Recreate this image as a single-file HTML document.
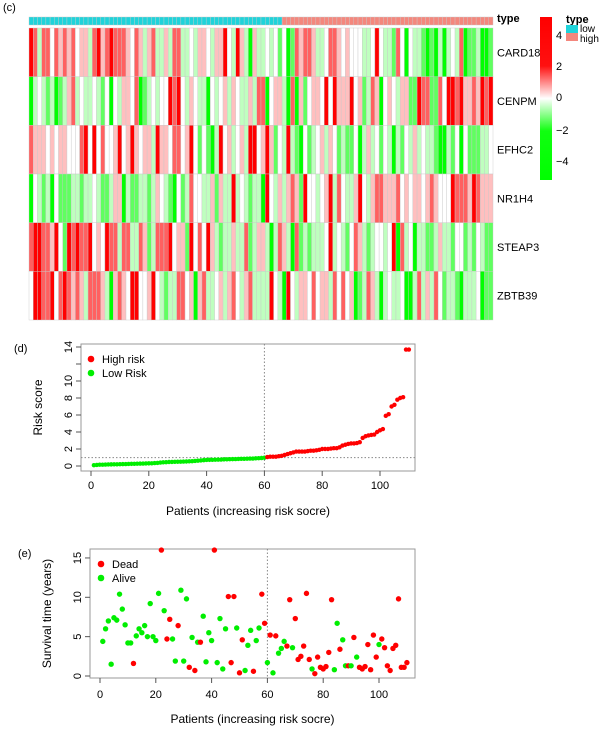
<!DOCTYPE html>
<html><head><meta charset="utf-8"><style>
body{margin:0;background:#fff;}
svg{display:block;font-family:"Liberation Sans",Arial,sans-serif;}
</style></head><body>
<svg id="fig" width="603" height="730" viewBox="0 0 603 730">
<text x="3" y="11" font-size="11">(c)</text>
<text x="14" y="352" font-size="11">(d)</text>
<text x="18" y="557" font-size="11">(e)</text>
<g id="heat"></g>
<g id="legend">
<defs><linearGradient id="cg" x1="0" y1="0" x2="0" y2="1">
<stop offset="0" stop-color="#ff0000"/><stop offset="0.3" stop-color="#ff1010"/><stop offset="0.5" stop-color="#ffffff"/><stop offset="0.7" stop-color="#10ff10"/><stop offset="1" stop-color="#00ff00"/></linearGradient></defs>
<rect x="540" y="17" width="12" height="163" fill="url(#cg)"/>
<text x="556" y="39" font-size="11">4</text>
<text x="556" y="70" font-size="11">2</text>
<text x="556" y="101" font-size="11">0</text>
<text x="556" y="134" font-size="11">−2</text>
<text x="556" y="165" font-size="11">−4</text>
<text x="566" y="23" font-size="11" font-weight="bold">type</text>
<rect x="566" y="25" width="12" height="8" fill="#1fd3da"/>
<rect x="566" y="33" width="12" height="8" fill="#f4877d"/>
<text x="580" y="32" font-size="10">low</text>
<text x="580" y="42" font-size="10">high</text>
<text x="497" y="22" font-size="11" font-weight="bold">type</text>
</g>
<g id="riskplot"></g>
<g id="survplot"></g>
</svg>
<script>
const genes=["CARD18","CENPM","EFHC2","NR1H4","STEAP3","ZBTB39"];
const lowCount=60;
const card18=[4,2.5,-1,2.5,2.5,0,2.5,1,2.5,1,2.5,0,1,1,-1,2.5,4,1,2.5,4,2.5,2.5,2.5,1,0,2.5,1,-1,1,2.5,-1,-1,1,-1,2.5,2.5,-1,-1,0,-1,1,1,0,-1,1,1,4,0,-1,4,1,-1,-4,1,-1,-1,0,-1,0,-2.5,0,-4,-2.5,2.5,1,2.5,2.5,1,-1,-1,0,2.5,2.5,1,0,1,0,0,0,-1,-1,0,4,0,-1,-1,-2.5,2.5,0,-4,0,-1,-1,-2.5,-4,-2.5,-4,-1,-4,-1,0,-1,2.5,-4,-2.5,-2.5,-1,-4,-4,-2.5];
const cenpm=[-4,-1,0,-1,-2.5,-1,-4,-2.5,-1,1,2.5,-1,0,-1,-1,0,-1,-2.5,0,-4,0,-1,1,1,0,2.5,-4,-2.5,-1,0,-1,0,0,4,2.5,4,0,-1,1,0,-1,-1,-4,0,-1,0,1,-1,1,0,-1,-1,1,-1,2.5,2.5,-4,0,1,1,-1,-4,2.5,-4,1,-2.5,0,1,1,0,4,0,4,1,1,1,4,0,1,-2.5,-1,2.5,1,-4,0,1,0,-1,1,1,-2.5,-2.5,4,2.5,2.5,-2.5,-2.5,2.5,0,4,4,2.5,4,1,1,2.5,1,4,2.5,4];
const efhc2=[2.5,1,1,1,0,1,0,1,1,0,0,0,2.5,4,0,4,0,2.5,0,0,1,4,0,1,4,1,0,1,1,-1,4,1,1,0,2.5,2.5,0,1,4,0,-2.5,0,-2.5,-4,-1,4,0,1,-1,0,1,-1,4,4,0,1,4,1,-2.5,0,-1,4,-1,-2.5,-4,0,-2.5,-1,0,1,-1,1,0,-2.5,-1,-2.5,-2.5,0,-4,-1,1,-1,0,-2.5,0,-1,-4,-1,-2.5,0,-1,1,-1,0,-1,-1,-2.5,-4,-4,-1,-2.5,0,-4,0,-2.5,-2.5,-2.5,-1,-1,0];
const nr1h4=[-4,0,-1,-2.5,-1,-4,0,-2.5,-2.5,-2.5,-1,-1,-2.5,-1,-1,0,-1,-2.5,-2.5,-1,1,1,-4,-1,-2.5,-2.5,-1,-1,-2.5,-1,1,0,-1,-2.5,-4,0,-2.5,-1,2.5,0,0,-1,-1,1,-2.5,1,-1,-1,4,-1,0,-1,-2.5,-1,-1,-4,4,0,-1,1,-1,1,2.5,1,-2.5,4,0,0,-1,0,1,4,-1,2.5,0,-1,-1,1,4,0,-1,1,2.5,2.5,1,1,1,2.5,0,1,0,1,1,0,1,2.5,1,0,0,0,4,2.5,2.5,2.5,1,4,2.5,1,1,1];
const steap3=[2.5,4,4,2.5,2.5,1,4,0,-2.5,4,2.5,4,2.5,2.5,4,0,1,0,4,2.5,2.5,-1,2.5,2.5,-1,-1,2.5,1,-2.5,-1,2.5,2.5,2.5,4,0,1,1,-2.5,4,0,2.5,0,4,1,-1,-2.5,-1,-1,1,-1,-1,2.5,-2.5,-1,1,1,-1,-4,-1,2.5,1,-1,-4,2.5,-2.5,-1,-2.5,-1,-1,-1,0,4,-1,0,-1,-2.5,0,2.5,1,-1,-2.5,-1,0,0,-1,0,4,-4,2.5,-1,0,-4,-1,-1,-2.5,-2.5,-1,1,-1,-1,-2.5,0,0,-2.5,-1,-2.5,0,-1,-2.5,-2.5];
const zbtb39=[0,4,4,2.5,2.5,4,0,2.5,4,2.5,1,2.5,1,-1,2.5,2.5,2.5,1,-1,-4,1,2.5,1,0,4,4,0,0,1,4,0,-1,-2.5,-1,-1,2.5,2.5,0,1,-4,1,2.5,-1,-1,0,1,-1,1,2.5,0,-1,1,2.5,-1,-1,-1,-1,4,0,-1,-4,4,0,-1,1,1,0,2.5,0,1,1,-1,2.5,0,2.5,0,1,-4,-2.5,-1,2.5,1,-1,-4,-1,0,-1,-1,0,-4,-4,-1,2.5,-1,1,-1,2.5,0,-2.5,-1,-1,-2.5,-4,-1,-1,-1,0,-4,-2.5,-2.5];
const riskScores=[0.10,0.12,0.15,0.16,0.17,0.18,0.19,0.20,0.20,0.21,0.22,0.23,0.24,0.25,0.26,0.27,0.28,0.29,0.30,0.31,0.32,0.34,0.36,0.40,0.43,0.45,0.47,0.48,0.49,0.50,0.51,0.52,0.53,0.55,0.57,0.60,0.63,0.66,0.69,0.71,0.72,0.73,0.74,0.75,0.76,0.78,0.79,0.80,0.81,0.82,0.83,0.84,0.85,0.86,0.87,0.88,0.90,0.92,0.94,0.97,
1.05,1.1,1.1,1.1,1.15,1.2,1.3,1.4,1.5,1.6,1.7,1.7,1.7,1.7,1.75,1.8,1.8,1.85,1.9,2.0,2.0,2.0,2.05,2.1,2.1,2.2,2.4,2.5,2.6,2.65,2.65,2.7,2.8,3.3,3.5,3.6,3.65,3.7,4.0,4.2,4.35,5.9,6.1,7.0,7.2,7.8,8.0,8.1,13.7,13.7];
const riskCutoff=0.98;
const survTime=[4.4,6.0,7.0,1.5,7.4,7.1,10.4,8.5,6.5,4.2,4.2,1.6,5.1,6.0,5.5,6.4,5.0,9.2,5.0,4.5,10.5,16,8.3,4.7,7.2,4.7,1.9,6.4,10.9,1.9,9.8,1.1,4.9,0.7,4.3,4.3,7.6,1.8,5.5,4.5,16,1.7,7.3,0.9,6.0,10.1,1.7,10.1,6.1,0.4,4.6,0.7,3.9,5.8,0.6,4.5,6.1,10.4,6.7,1.7,5.2,0.4,5.1,2.9,3.5,4.4,3.8,9.7,3.6,7.3,2.1,2.5,3.8,10.5,2.1,0.9,0.3,2.4,1.1,0.9,1.2,3.0,9.7,0.8,6.7,3.4,4.6,1.3,1.3,1.3,4.9,2.4,1.1,0.9,1.2,4.0,0.8,5.2,2.4,4.0,4.7,3.6,1.3,0.7,3.5,3.9,9.8,1.1,1.1,1.7];
const survDead=[0,0,0,0,0,0,0,0,0,0,0,1,0,0,0,0,0,0,0,0,0,1,0,1,1,0,0,1,0,0,0,1,0,1,0,1,0,0,0,0,1,0,0,0,0,1,1,1,0,1,1,0,0,0,1,0,0,1,1,0,1,0,1,0,0,0,1,1,0,1,1,1,1,1,1,0,1,1,1,1,1,1,1,0,0,1,0,0,1,0,1,0,1,1,1,1,1,1,1,0,1,1,1,1,1,1,1,1,1,1];
const xTicks=[0,20,40,60,80,100];
const riskYTicks=[0,2,4,6,8,10,12,14];
const riskYLabels=["0","2","4","6","8","10","","14"];
const survYTicks=[0,5,10,15];

const NS="http://www.w3.org/2000/svg";
function mk(tag,attrs,parent){const e=document.createElementNS(NS,tag);for(const k in attrs)e.setAttribute(k,attrs[k]);parent.appendChild(e);return e;}
function cellColor(v){const t=Math.min(1,Math.abs(v)/4);const c=Math.round(255*(1-t));return v>=0?`rgb(255,${c},${c})`:`rgb(${c},255,${c})`;}

const heat=document.getElementById('heat');
const rows=[card18,cenpm,efhc2,nr1h4,steap3,zbtb39];
const hx0=29,hx1=493,hy0=28,hy1=320;
const n=card18.length, cw=(hx1-hx0)/n, rh=(hy1-hy0)/rows.length;
for(let i=0;i<n;i++){
  const a=mk('rect',{x:hx0+i*cw,y:17,width:cw,height:8,fill:i<lowCount?'#1fd3da':'#f4877d',stroke:'#c8c8c8','stroke-width':0.4},heat);
  
  
}
rows.forEach((vals,r)=>{
  vals.forEach((v,i)=>{
    const c=mk('rect',{x:hx0+i*cw,y:hy0+r*rh,width:cw,height:rh,fill:cellColor(v),stroke:'#c8c8c8','stroke-width':0.4},heat);
    
    
  });
  const t=mk('text',{x:497,y:hy0+r*rh+rh/2+4,'font-size':11},heat);
  t.textContent=genes[r];
  
  
});

function axes(g,box,xs,ys,yt,ylab,ytitle,xtitle,titleX,tickLblY,xTitleY){
  const b=mk('rect',{x:box.l,y:box.t,width:box.r-box.l,height:box.b-box.t,fill:'none',stroke:'#999','stroke-width':1},g);
  
  
  xTicks.forEach(v=>{
    const x=xs(v);
    mk('line',{x1:x,x2:x,y1:box.b,y2:box.b+5,stroke:'#555'},g);
    const t=mk('text',{x:x,y:tickLblY,'font-size':11,'text-anchor':'middle'},g);
    t.textContent=v;
    
    
  });
  yt.forEach((v,i)=>{
    const y=ys(v);
    mk('line',{x1:box.l,x2:box.l-5,y1:y,y2:y,stroke:'#555'},g);
    const t=mk('text',{x:box.l-9,y:y,'font-size':11,'text-anchor':'middle',transform:`rotate(-90 ${box.l-9} ${y})`},g);
    t.textContent=ylab[i];
    
    
  });
  const yt2=mk('text',{x:titleX,y:(box.t+box.b)/2,'font-size':12,'text-anchor':'middle',transform:`rotate(-90 ${titleX} ${(box.t+box.b)/2})`},g);
  yt2.textContent=ytitle;
  
  
  const xt=mk('text',{x:(box.l+box.r)/2,y:xTitleY,'font-size':12,'text-anchor':'middle'},g);
  xt.textContent=xtitle;
  
  
}
function legend(g,x,y,labels,colors){
  labels.forEach((l,i)=>{
    const c=mk('circle',{cx:x,cy:y+i*14,r:3.3,fill:colors[i]},g);
    
    
    const t=mk('text',{x:x+11,y:y+i*14+4,'font-size':11},g);
    t.textContent=l;
    
    
  });
}

const rp=document.getElementById('riskplot');
const rbox={l:81,r:415,t:344,b:471};
const rxs=v=>91+v*2.89, rys=v=>466-v*8.5;
axes(rp,rbox,rxs,rys,riskYTicks,riskYLabels,'Risk score','Patients (increasing risk socre)',42,489,515);
mk('line',{x1:rxs(lowCount),x2:rxs(lowCount),y1:rbox.t,y2:rbox.b,stroke:'#888','stroke-dasharray':'1.5,2'},rp);
mk('line',{x1:rbox.l,x2:rbox.r,y1:rys(riskCutoff),y2:rys(riskCutoff),stroke:'#888','stroke-dasharray':'1.5,2'},rp);
riskScores.forEach((v,i)=>{
  const c=mk('circle',{cx:rxs(i+1),cy:rys(v),r:2.2,fill:i<lowCount?'#00ee00':'#ff0000'},rp);
  
  
});
legend(rp,91,359,['High risk','Low Risk'],['#ff0000','#00ee00']);

const sp=document.getElementById('survplot');
const sbox={l:90,r:415,t:549,b:678};
const sxs=v=>100+v*2.79, sys=v=>676-v*7.87;
axes(sp,sbox,sxs,sys,survYTicks,survYTicks.map(String),'Survival time (years)','Patients (increasing risk socre)',51,698,723);
mk('line',{x1:sxs(lowCount),x2:sxs(lowCount),y1:sbox.t,y2:sbox.b,stroke:'#888','stroke-dasharray':'1.5,2'},sp);
survTime.forEach((v,i)=>{
  const c=mk('circle',{cx:sxs(i+1),cy:sys(v),r:2.7,fill:survDead[i]?'#ff0000':'#00ee00'},sp);
  
  
});
legend(sp,101,564,['Dead','Alive'],['#ff0000','#00ee00']);
</script>
</body></html>
